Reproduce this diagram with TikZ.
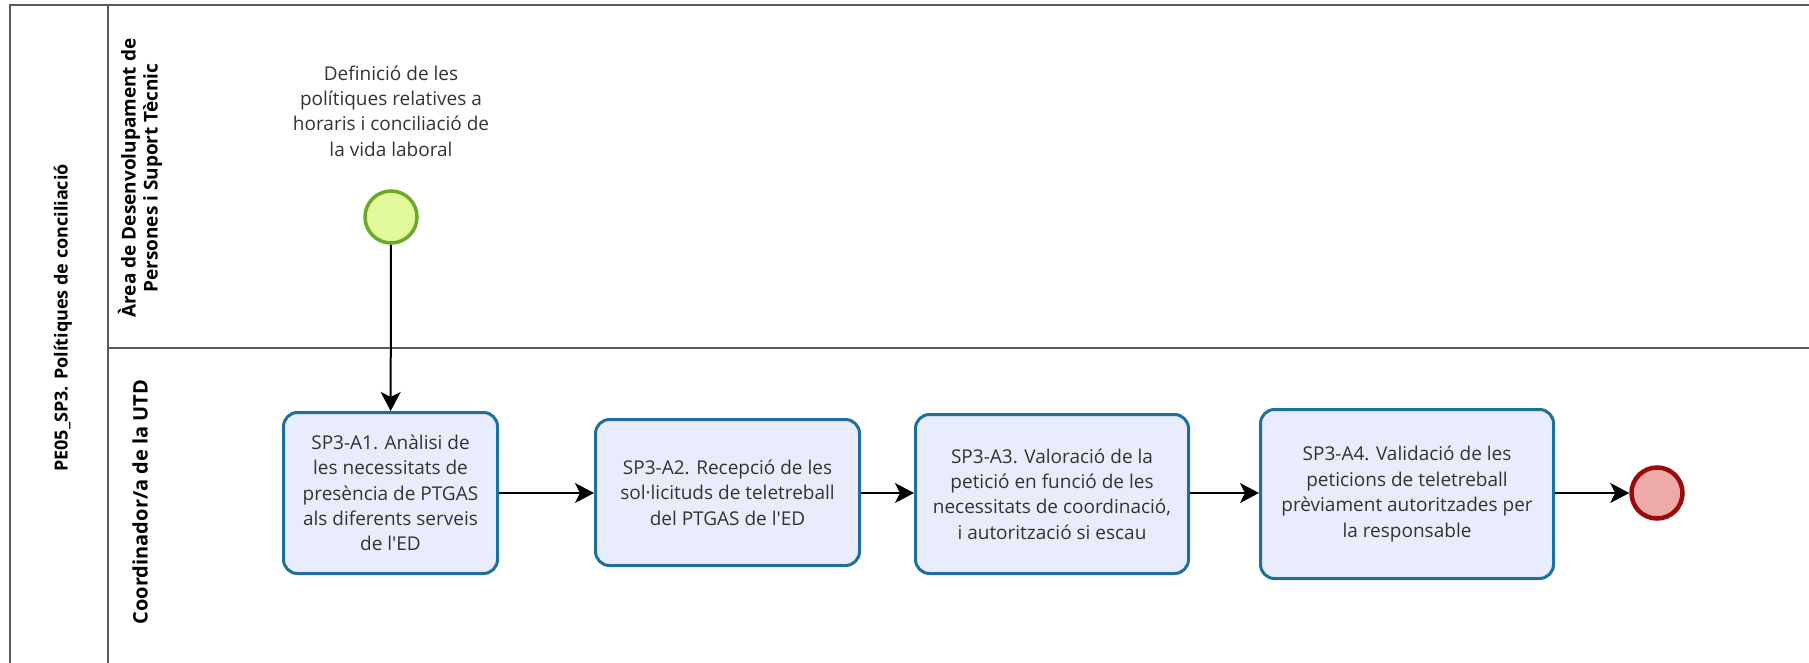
\documentclass[tikz,border=0pt]{standalone}
\usepackage{fontspec}
\setmainfont{Open Sans}
\usetikzlibrary{arrows.meta}
\definecolor{boxfill}{HTML}{E8ECFC}
\definecolor{boxline}{HTML}{1F6F9C}
\definecolor{startfill}{HTML}{E2FA9C}
\definecolor{startline}{HTML}{6AAA26}
\definecolor{endfill}{HTML}{EEAAAA}
\definecolor{endline}{HTML}{9A0A0A}
\definecolor{poolline}{HTML}{5A5A5A}
\definecolor{txt}{HTML}{333333}
\begin{document}
\begin{tikzpicture}[x=1pt,y=-1pt,
  task/.style={draw=boxline, fill=boxfill, line width=3pt, rounded corners=14pt,
    align=center, font=\fontsize{19}{25.4}\selectfont, text=txt, inner sep=0pt},
  lanelabel/.style={rotate=90, align=center, font=\bfseries\fontsize{19}{22}\selectfont, text=black},
  flow/.style={line width=2pt, -{Stealth[length=19pt,width=20pt,inset=5pt]}},
  poolborder/.style={draw=poolline, line width=2.2pt}]
\useasboundingbox (0,0) rectangle (1809,663);
% pool and lanes
\draw[poolborder] (10,663) -- (10,5) -- (1809,5);
\draw[poolborder] (108,5) -- (108,663);
\draw[poolborder] (108,348) -- (1809,348);
\node[lanelabel, font=\bfseries\fontsize{18}{22}\selectfont] (pool) at (63,318) {PE05\_SP3. Polítiques de conciliació};
\node[lanelabel] (lane1) at (140,178) {Àrea de Desenvolupament de\\Persones i Suport Tècnic};
\node[lanelabel, font=\bfseries\fontsize{20}{22}\selectfont] (lane2) at (140,502) {Coordinador/a de la UTD};
% start event
\node[align=center, font=\fontsize{19}{25.4}\selectfont, text=txt] (startlabel) at (391,111)
  {Definició de les\\polítiques relatives a\\horaris i conciliació de\\la vida laboral};
\node[circle, draw=startline, fill=startfill, line width=3.5pt, minimum size=52pt, inner sep=0pt] (start) at (391,217) {};
% tasks
\node[task, minimum width=214pt, minimum height=161pt] (a1) at (390.5,493)
  {SP3-A1. Anàlisi de\\les necessitats de\\presència de PTGAS\\als diferents serveis\\de l\textquotesingle ED};
\node[task, minimum width=264pt, minimum height=146pt] (a2) at (727.5,492.5)
  {SP3-A2. Recepció de les\\sol·licituds de teletreball\\del PTGAS de l\textquotesingle ED};
\node[task, minimum width=273pt, minimum height=159pt] (a3) at (1052,494)
  {SP3-A3. Valoració de la\\petició en funció de les\\necessitats de coordinació,\\i autorització si escau};
\node[task, minimum width=293pt, minimum height=169pt] (a4) at (1407,494)
  {SP3-A4. Validació de les\\peticions de teletreball\\prèviament autoritzades per\\la responsable};
% end event
\node[circle, draw=endline, fill=endfill, line width=4.5pt, minimum size=51pt, inner sep=0pt] (end) at (1657,493) {};
% flows
\draw[flow] (start) -- (a1);
\draw[flow] (a1.east |- 0,493) -- (a2.west |- 0,493);
\draw[flow] (a2.east |- 0,493) -- (a3.west |- 0,493);
\draw[flow] (a3.east |- 0,493) -- (a4.west |- 0,493);
\draw[flow] (a4.east |- 0,493) -- (end);
\end{tikzpicture}
\end{document}
